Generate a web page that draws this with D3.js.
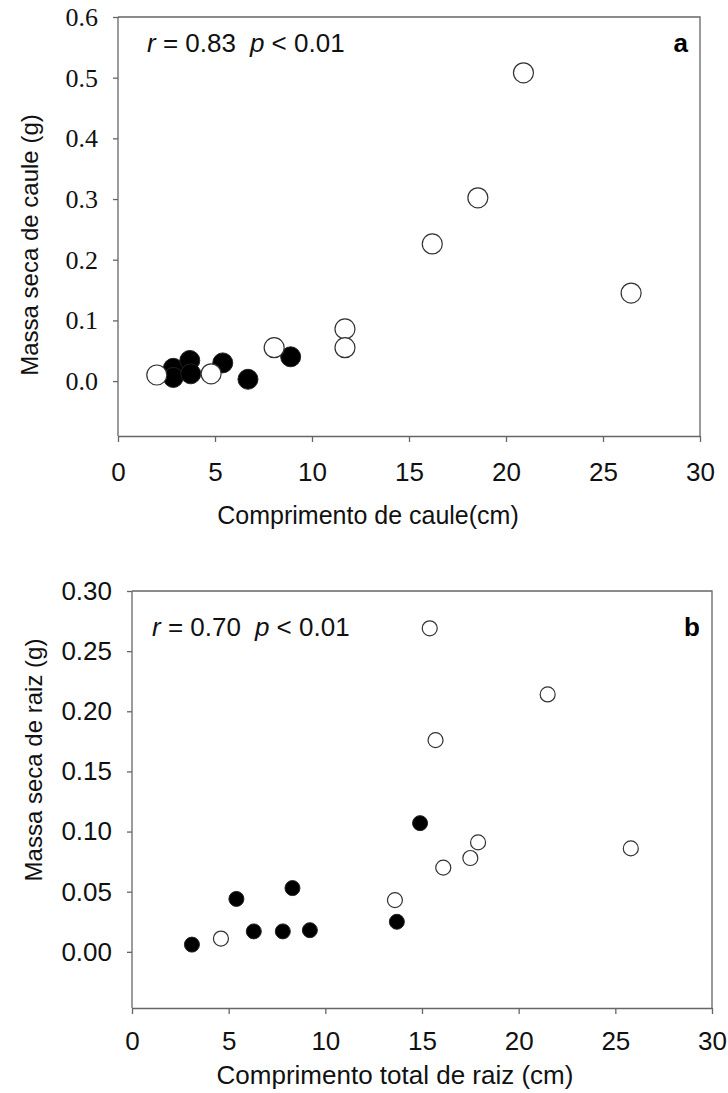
<!DOCTYPE html>
<html>
<head>
<meta charset="utf-8">
<script src="https://cdn.jsdelivr.net/npm/d3@7"></script>
<style>
  body { margin: 0; background: #fff; }
  svg { display: block; }
  .axis path, .axis line { stroke: #666; stroke-width: 1.3; }
  .axis text { fill: #111; }
  .serif text { font-family: 'Liberation Serif', 'DejaVu Serif', serif !important; }
</style>
</head>
<body>
<svg id="chart"></svg>
<script>
// panel a: comprimento de caule vs massa seca de caule
let aOpenX = [2.0, 4.8, 8.05, 11.7, 11.7, 16.2, 18.55, 20.9, 26.45];
let aOpenY = [0.010, 0.012, 0.055, 0.086, 0.055, 0.226, 0.302, 0.508, 0.145];
let aFillX = [2.85, 2.85, 3.7, 3.75, 5.4, 6.7, 8.9];
let aFillY = [0.021, 0.006, 0.034, 0.012, 0.030, 0.003, 0.040];

// panel b: comprimento total de raiz vs massa seca de raiz
let bOpenX = [4.6, 13.6, 15.4, 15.7, 16.1, 17.5, 17.9, 21.5, 25.8];
let bOpenY = [0.011, 0.043, 0.269, 0.176, 0.070, 0.078, 0.091, 0.214, 0.086];
let bFillX = [3.1, 5.4, 6.3, 7.8, 8.3, 9.2, 13.7, 14.9];
let bFillY = [0.006, 0.044, 0.017, 0.017, 0.053, 0.018, 0.025, 0.107];

let xTicks = [0, 5, 10, 15, 20, 25, 30];
let aYTicks = [0.0, 0.1, 0.2, 0.3, 0.4, 0.5, 0.6];
let bYTicks = [0.00, 0.05, 0.10, 0.15, 0.20, 0.25, 0.30];

let sans = "'Liberation Sans', Arial, sans-serif";

let svg = d3.select('#chart').attr('width', 728).attr('height', 1093);

function zip(xs, ys) {
  return xs.map((x, i) => ({x: x, y: ys[i]}));
}

function drawPanel(cfg) {
  let x = d3.scaleLinear().domain([0, 30]).range([cfg.left, cfg.right]);
  let y = d3.scaleLinear().domain(cfg.yDomain).range([cfg.bottom, cfg.top]);

  let g = svg.append('g');

  // frame (top and right)
  g.append('path')
    .attr('d', 'M' + cfg.left + ',' + cfg.top + 'H' + cfg.right + 'V' + cfg.bottom)
    .attr('fill', 'none')
    .attr('stroke', '#666')
    .attr('stroke-width', 1.3);

  let xAxis = d3.axisBottom(x).tickValues(xTicks).tickSize(6).tickSizeOuter(0).tickPadding(cfg.xPad);
  let xg = g.append('g').attr('class', 'axis')
    .attr('transform', translate(0, cfg.bottom))
    .call(xAxis);
  xg.attr('font-family', null).attr('font-size', null);
  xg.selectAll('text').style('font-family', sans).style('font-size', cfg.xTickSize + 'px');

  let yAxis = d3.axisLeft(y).tickValues(cfg.yTicks).tickSize(5).tickSizeOuter(0)
    .tickPadding(cfg.yPad).tickFormat(d3.format(cfg.yFormat));
  let yg = g.append('g').attr('class', cfg.yClass)
    .attr('transform', translate(cfg.left, 0))
    .call(yAxis);
  yg.attr('font-family', null).attr('font-size', null);
  yg.selectAll('text').style('font-size', cfg.yTickSize + 'px');
  if (cfg.yClass === 'axis') yg.selectAll('text').style('font-family', sans);
  yg.select('.domain').attr('d', 'M0,' + cfg.top + 'V' + cfg.bottom);

  // markers
  g.selectAll('circle.fill')
    .data(zip(cfg.fillX, cfg.fillY))
    .join('circle')
    .attr('class', 'fill')
    .attr('cx', d => x(d.x))
    .attr('cy', d => y(d.y))
    .attr('r', cfg.r)
    .attr('fill', '#000')
    .attr('stroke', '#222')
    .attr('stroke-width', 1);

  g.selectAll('circle.open')
    .data(zip(cfg.openX, cfg.openY))
    .join('circle')
    .attr('class', 'open')
    .attr('cx', d => x(d.x))
    .attr('cy', d => y(d.y))
    .attr('r', cfg.r)
    .attr('fill', '#fff')
    .attr('stroke', '#333')
    .attr('stroke-width', 1.2);

  // r / p annotation
  let note = g.append('text')
    .attr('x', cfg.noteX)
    .attr('y', cfg.noteY)
    .style('font-family', sans)
    .style('font-size', '26px')
    .attr('fill', '#111')
    .style('white-space', 'pre');
  note.append('tspan').style('font-style', 'italic').text('r');
  note.append('tspan').text(' = ' + cfg.r2);
  note.append('tspan').attr('dx', 14).style('font-style', 'italic').text('p');
  note.append('tspan').text(' < 0.01');

  // panel letter
  g.append('text')
    .attr('x', cfg.right - 12)
    .attr('y', cfg.noteY)
    .attr('text-anchor', 'end')
    .style('font-family', sans)
    .style('font-size', '26px')
    .style('font-weight', 'bold')
    .attr('fill', '#000')
    .text(cfg.letter);

  // axis titles
  g.append('text')
    .attr('x', cfg.xTitleX)
    .attr('y', cfg.xTitleY)
    .attr('text-anchor', 'middle')
    .style('font-family', sans)
    .style('font-size', cfg.xTitleSize + 'px')
    .attr('fill', '#111')
    .text(cfg.xTitle);

  g.append('text')
    .attr('transform', translate(cfg.yTitleX, cfg.yTitleY) + ' rotate(-90)')
    .attr('text-anchor', 'middle')
    .style('font-family', sans)
    .style('font-size', '24px')
    .attr('fill', '#111')
    .text(cfg.yTitle);
}

drawPanel({
  left: 118, right: 700, top: 17, bottom: 436,
  yDomain: [-0.0905, 0.6], yTicks: aYTicks, yFormat: '.1f',
  yClass: 'axis serif', yTickSize: 26, yPad: 15, xTickSize: 26, xPad: 21,
  openX: aOpenX, openY: aOpenY, fillX: aFillX, fillY: aFillY, r: 10,
  noteX: 147, noteY: 52, r2: '0.83', letter: 'a',
  xTitle: 'Comprimento de caule(cm)', xTitleX: 368, xTitleY: 524, xTitleSize: 25,
  yTitle: 'Massa seca de caule (g)', yTitleX: 38, yTitleY: 245
});

drawPanel({
  left: 132, right: 712, top: 591, bottom: 1008,
  yDomain: [-0.0467, 0.3], yTicks: bYTicks, yFormat: '.2f',
  yClass: 'axis', yTickSize: 26, yPad: 15, xTickSize: 26, xPad: 18,
  openX: bOpenX, openY: bOpenY, fillX: bFillX, fillY: bFillY, r: 7.5,
  noteX: 152, noteY: 636, r2: '0.70', letter: 'b',
  xTitle: 'Comprimento total de raiz (cm)', xTitleX: 395, xTitleY: 1084, xTitleSize: 26,
  yTitle: 'Massa seca de raiz (g)', yTitleX: 42, yTitleY: 760
});

// helper method to make translating easier
function translate(x, y) {
  return 'translate(' + x + ',' + y + ')';
}
</script>
</body>
</html>
